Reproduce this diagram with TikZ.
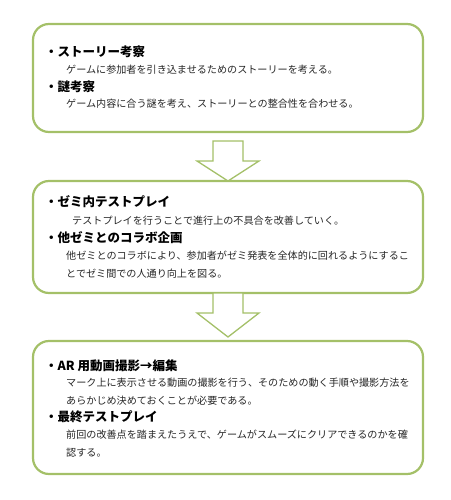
\documentclass[tikz,border=0pt]{standalone}
\usepackage{fontspec}
\setmainfont{Noto Sans CJK JP}
\usetikzlibrary{calc}
\definecolor{leafgreen}{HTML}{A4C068}

\begin{document}
\begin{tikzpicture}[x=1pt, y=-1pt,
        panel/.style={draw=leafgreen, line width=2.2pt, rounded corners=16pt, fill=white, outer sep=0pt, minimum width=390pt},
        flow/.style={draw=leafgreen, line width=1.3pt, fill=white, line join=miter},
        head/.style={anchor=west, inner sep=0pt, font=\bfseries\fontsize{12.5}{14}\selectfont},
        body/.style={anchor=west, inner sep=0pt, align=left, font=\fontsize{10.1}{18}\selectfont, text=black!85}
    ]
        \useasboundingbox (0,0) rectangle (450,500);

        \node[panel, minimum height=108pt] (plan) at (228,78) {};
        \node[panel, minimum height=112pt] (test) at (228,237) {};
        \node[panel, minimum height=133pt] (final) at (228,407.5) {};

        \draw[flow] ($(plan.south)+(-15,9)$) -- ++(30,0) -- ++(0,20) -- ++(16,0) -- (test.north) -- ++(-31,-20) -- ++(16,0) -- cycle;
        \draw[flow] ($(test.south)+(-15,0)$) -- ++(30,0) -- ++(0,20) -- ++(16,0) -- ($(final.north)+(0,-4)$) -- ++(-31,-24) -- ++(16,0) -- cycle;

        \node[head] (story) at (45,52) {・ストーリー考察};
        \node[body] (storytxt) at (66,70) {ゲームに参加者を引き込ませるためのストーリーを考える。};
        \node[head] (riddle) at (45,87) {・謎考察};
        \node[body] (riddletxt) at (66,104) {ゲーム内容に合う謎を考え、ストーリーとの整合性を合わせる。};

        \node[head] (inner) at (45,202) {・ゼミ内テストプレイ};
        \node[body] (innertxt) at (72,221) {テストプレイを行うことで進行上の不具合を改善していく。};
        \node[head] (collab) at (45,238) {・他ゼミとのコラボ企画};
        \node[body] (collabtxt) at (66,265) {他ゼミとのコラボにより、参加者がゼミ発表を全体的に回れるようにするこ\\とでゼミ間での人通り向上を図る。};

        \node[head] (movie) at (45,366) {・AR 用動画撮影→編集};
        \node[body] (movietxt) at (66,391.5) {マーク上に表示させる動画の撮影を行う、そのための動く手順や撮影方法を\\あらかじめ決めておくことが必要である。};
        \node[head] (last) at (45,417) {・最終テストプレイ};
        \node[body] (lasttxt) at (66,444) {前回の改善点を踏まえたうえで、ゲームがスムーズにクリアできるのかを確\\認する。};
    \end{tikzpicture}
\end{document}
